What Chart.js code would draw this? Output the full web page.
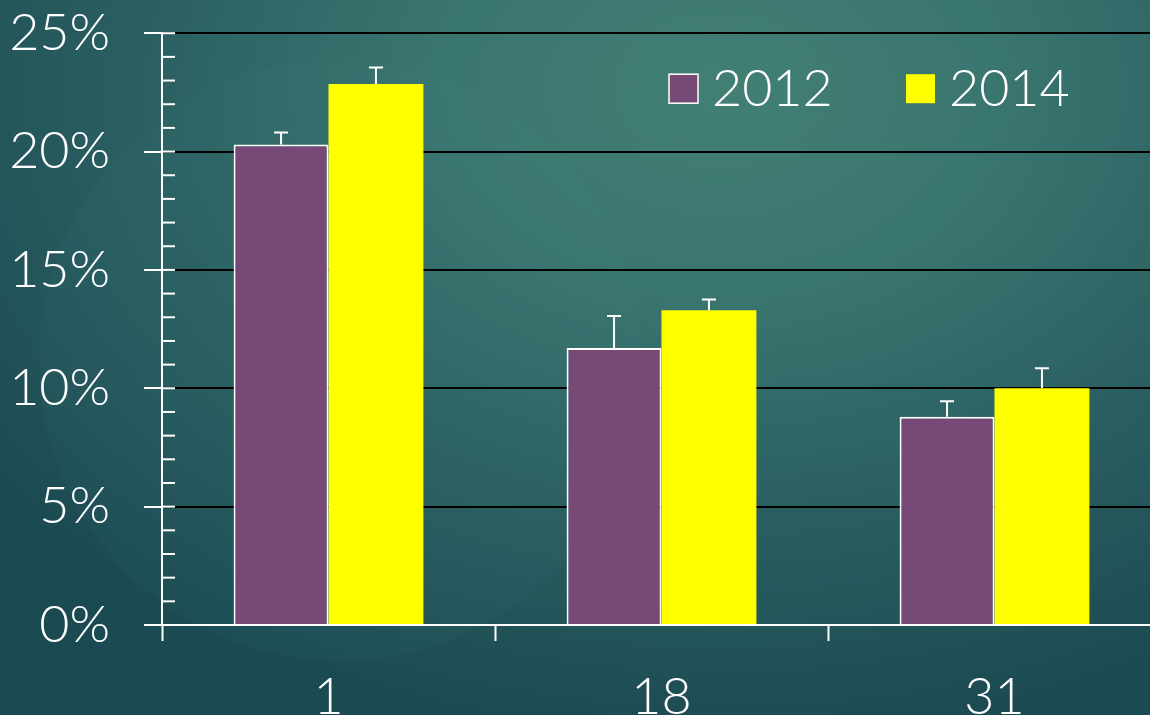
<!DOCTYPE html>
<html>
<head>
<meta charset="utf-8">
<script src="https://cdn.jsdelivr.net/npm/chart.js@4/dist/chart.umd.min.js"></script>
<style>
    html, body {
        margin: 0;
        padding: 0;
        width: 1150px;
        height: 715px;
        overflow: hidden;
    }
    body {
        background:
            radial-gradient(circle at 340px 360px, rgba(70, 140, 140, 0.06) 0, rgba(70, 140, 140, 0.06) 300px, rgba(0, 0, 0, 0) 302px),
            radial-gradient(ellipse 900px 650px at 720px 90px, #427f73 0%, #3a7670 30%, #2c6263 60%, #1c4a52 100%),
            #1c4a52;
    }
    #wrap {
        position: absolute;
        left: 0;
        top: -32px;
        width: 1166px;
        height: 747px;
    }
</style>
</head>
<body>
<div id="wrap"><canvas id="barChart"></canvas></div>
<script>
// ==========================================
// Bar chart with upper error bars (2012 vs 2014)
// ==========================================

const categories = ['1', '18', '31'];
const values2012 = [20.3, 11.7, 8.8];
const values2014 = [22.85, 13.3, 10.0];
const errors2012 = [20.8, 13.05, 9.45];   // top of error whisker
const errors2014 = [23.55, 13.75, 10.85];
const seriesLabels = ['2012', '2014'];
const yTicks = [0, 5, 10, 15, 20, 25];

const colors = {
    purple: '#774977',
    yellow: '#ffff00',
    white: '#ffffff',
    grid: '#000000',
    text: '#ffffff'
};

const fontFamily = "'Lato', 'Open Sans', sans-serif";
const fontSize = 52;

// Draws the white upper error whiskers
const errorBars = {
    id: 'errorBars',
    afterDatasetsDraw(chart) {
        const { ctx } = chart;
        const yScale = chart.scales.y;
        const tops = [errors2012, errors2014];
        ctx.save();
        ctx.strokeStyle = colors.white;
        ctx.lineWidth = 2;
        chart.data.datasets.forEach((ds, i) => {
            const meta = chart.getDatasetMeta(i);
            meta.data.forEach((bar, j) => {
                const yTop = yScale.getPixelForValue(tops[i][j]);
                ctx.beginPath();
                ctx.moveTo(bar.x, bar.y);
                ctx.lineTo(bar.x, yTop);
                ctx.moveTo(bar.x - 7, yTop);
                ctx.lineTo(bar.x + 7, yTop);
                ctx.stroke();
            });
        });
        ctx.restore();
    }
};

// Inner tick marks (right of the y axis) for every 1%
const innerTicks = {
    id: 'innerTicks',
    beforeDatasetsDraw(chart) {
        const { ctx } = chart;
        const yScale = chart.scales.y;
        const left = chart.chartArea.left;
        ctx.save();
        ctx.strokeStyle = colors.white;
        ctx.lineWidth = 2;
        yScale.ticks.forEach(t => {
            if (t.value === 0) return;
            const y = yScale.getPixelForValue(t.value);
            ctx.beginPath();
            ctx.moveTo(left, y);
            ctx.lineTo(left + 13, y);
            ctx.stroke();
        });
        ctx.restore();
    }
};

// Legend in the upper right of the plot
const topLegend = {
    id: 'topLegend',
    afterDraw(chart) {
        const { ctx } = chart;
        const spots = [669, 906];
        const boxY = chart.chartArea.top + 41, box = 29;
        ctx.save();
        ctx.font = `300 ${fontSize}px ${fontFamily}`;
        ctx.textBaseline = 'middle';
        ctx.textAlign = 'left';
        chart.data.datasets.forEach((ds, i) => {
            const x = spots[i];
            ctx.fillStyle = ds.backgroundColor;
            ctx.fillRect(x, boxY, box, box);
            if (ds.borderWidth) {
                ctx.strokeStyle = ds.borderColor;
                ctx.lineWidth = 1.5;
                ctx.strokeRect(x, boxY, box, box);
            }
            ctx.fillStyle = colors.text;
            ctx.fillText(ds.label, x + box + 14, boxY + box / 2 + 1);
        });
        ctx.restore();
    }
};

const ctx = document.getElementById('barChart');
new Chart(ctx, {
    type: 'bar',
    data: {
        labels: categories,
        datasets: [{
            label: seriesLabels[0],
            data: values2012,
            backgroundColor: colors.purple,
            borderColor: colors.white,
            borderWidth: 2,
            borderSkipped: 'bottom',
            categoryPercentage: 0.57,
            barPercentage: 1.0
        }, {
            label: seriesLabels[1],
            data: values2014,
            backgroundColor: colors.yellow,
            borderWidth: 0,
            categoryPercentage: 0.57,
            barPercentage: 1.0
        }]
    },
    options: {
        responsive: true,
        maintainAspectRatio: false,
        animation: false,
        layout: {
            padding: { top: 1, left: 0, right: 5, bottom: 0 }
        },
        plugins: {
            legend: { display: false },
            tooltip: { enabled: false }
        },
        scales: {
            x: {
                offset: true,
                grid: {
                    offset: true,
                    drawOnChartArea: false,
                    drawTicks: true,
                    tickLength: 16,
                    tickColor: colors.white,
                    tickWidth: 2
                },
                border: { color: colors.white, width: 2 },
                ticks: {
                    color: colors.text,
                    padding: 25,
                    font: { family: fontFamily, size: fontSize, weight: 300 }
                },
                afterFit: (scale) => { scale.height = 90; }
            },
            y: {
                min: 0,
                max: 25,
                afterBuildTicks: (scale) => {
                    const t = [];
                    for (let v = 0; v <= 25; v++) t.push({ value: v });
                    scale.ticks = t;
                },
                grid: {
                    color: c => (c.tick && c.tick.value % 5 === 0 && c.tick.value !== 0) ? colors.grid : 'rgba(0,0,0,0)',
                    lineWidth: 2,
                    drawTicks: true,
                    tickLength: 18,
                    tickColor: c => (c.tick && c.tick.value % 5 === 0) ? colors.white : 'rgba(0,0,0,0)',
                    tickWidth: 2
                },
                border: { color: colors.white, width: 2 },
                ticks: {
                    autoSkip: false,
                    color: colors.text,
                    padding: 34,
                    font: { family: fontFamily, size: fontSize, weight: 300 },
                    callback: v => yTicks.includes(v) ? v + '%' : ''
                },
                afterFit: (scale) => { scale.width = 162; }
            }
        }
    },
    plugins: [innerTicks, errorBars, topLegend]
});
</script>
</body>
</html>
